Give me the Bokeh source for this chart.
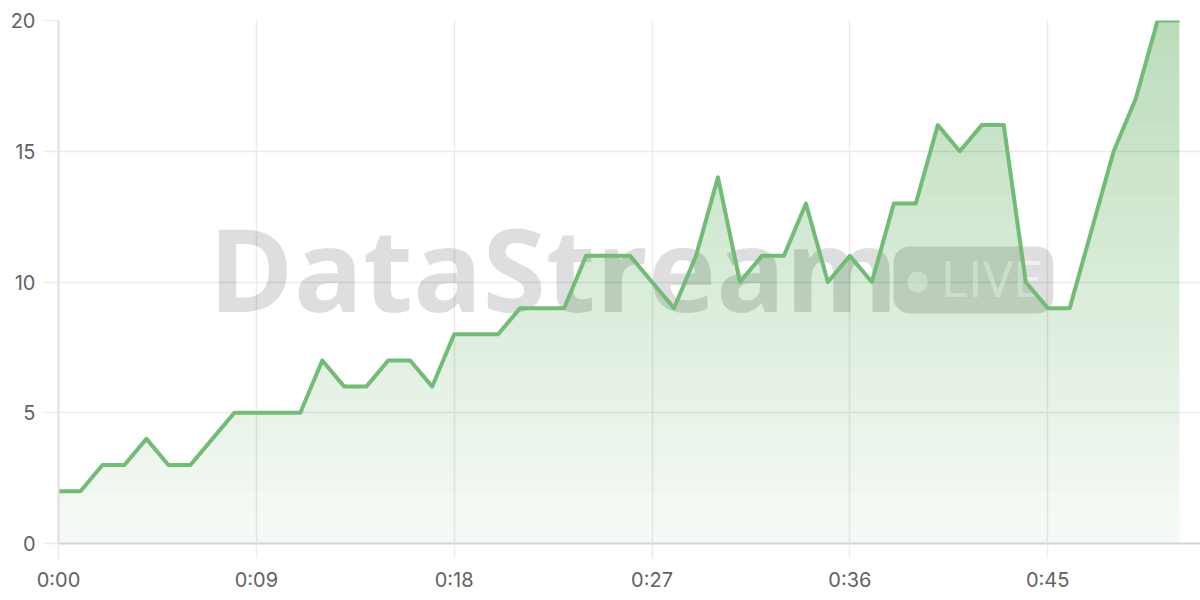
import numpy as np
from bokeh.plotting import figure
from bokeh.models import Label, FixedTicker, Range1d
from bokeh.embed import file_html
from bokeh.resources import INLINE

# ---- data ----
seconds = list(range(52))
values = [2, 2, 3, 3, 4, 3, 3, 4, 5, 5,
          5, 5, 7, 6, 6, 7, 7, 6, 8, 8,
          8, 9, 9, 9, 11, 11, 11, 10, 9, 11,
          14, 10, 11, 11, 13, 10, 11, 10, 13, 13,
          16, 15, 16, 16, 10, 9, 9, 12, 15, 17,
          20, 20]
x_ticks = [0, 9, 18, 27, 36, 45]
x_tick_labels = ["0:00", "0:09", "0:18", "0:27", "0:36", "0:45"]
y_ticks = [0, 5, 10, 15, 20]

LINE = "#74bb78"
FONT = "Inter"

p = figure(width=1200, height=600, output_backend="svg", toolbar_location=None,
           x_range=Range1d(0, 51.95), y_range=Range1d(0, 20),
           min_border_left=58, min_border_right=0, min_border_top=20, min_border_bottom=57)
p.outline_line_color = None
p.background_fill_color = "white"
p.border_fill_color = "white"

# grids
p.xgrid.ticker = FixedTicker(ticks=x_ticks)
p.ygrid.ticker = FixedTicker(ticks=y_ticks)
p.xgrid.grid_line_color = "#ebebeb"
p.ygrid.grid_line_color = "#ebebeb"
p.xgrid.grid_line_width = 1.5
p.ygrid.grid_line_width = 1.5

# axes
p.xaxis.ticker = FixedTicker(ticks=x_ticks)
p.xaxis.major_label_overrides = {t: l for t, l in zip(x_ticks, x_tick_labels)}
p.yaxis.ticker = FixedTicker(ticks=y_ticks)
for ax in (p.xaxis[0], p.yaxis[0]):
    ax.major_tick_in = 0
    ax.major_tick_out = 15
    ax.major_tick_line_color = "#ebebeb"
    ax.major_tick_line_width = 1.5
    ax.minor_tick_line_color = None
    ax.major_label_text_font = FONT
    ax.major_label_text_font_size = "20px"
    ax.major_label_text_color = "#626262"
    ax.axis_line_width = 2
p.xaxis.axis_line_color = "#d2d6d2"
p.yaxis.axis_line_color = "#dedede"
p.xaxis.major_label_standoff = 9
p.yaxis.major_label_standoff = 8

# watermark (drawn under the fill and line); screen units relative to the frame
wm = Label(x=150, y=276, x_units="screen", y_units="screen",
           text="DataStream", text_font="Open Sans", text_font_style="bold",
           text_font_size="115px", text_color="#000000", text_alpha=0.13,
           text_baseline="alphabetic", level="underlay")
p.add_layout(wm)

badge = Label(x=835, y=230, x_units="screen", y_units="screen",
              text="LIVE", text_font="Roboto", text_font_size="50px",
              text_color="#ffffff", text_alpha=0.55,
              text_baseline="bottom",
              background_fill_color="#000000", background_fill_alpha=0.13,
              border_radius=16, padding=dict(left=48, right=11, top=4, bottom=5),
              level="underlay")
p.add_layout(badge)
dot = Label(x=849, y=251, x_units="screen", y_units="screen",
            text=" ", text_font_size="1px",
            background_fill_color="#ffffff", background_fill_alpha=0.55,
            border_radius=10, padding=10,
            text_baseline="bottom", level="underlay")
p.add_layout(dot)

# gradient fill via stacked translucent layers
xs = np.array(seconds, dtype=float)
ys = np.array(values, dtype=float)
N = 30
levels = np.linspace(0, 20, N + 1)
xd, yd = [xs[0]], [ys[0]]
for i in range(len(xs) - 1):
    x0, y0, x1, y1 = xs[i], ys[i], xs[i + 1], ys[i + 1]
    lo, hi = min(y0, y1), max(y0, y1)
    pts = []
    for L in levels:
        if lo < L < hi:
            t = (L - y0) / (y1 - y0)
            pts.append((x0 + t * (x1 - x0), L))
    pts.sort()
    for px, py in pts:
        xd.append(px)
        yd.append(py)
    xd.append(x1)
    yd.append(y1)
xd = np.array(xd)
yd = np.array(yd)

p.varea(x=xd, y1=0, y2=yd, fill_color=LINE, fill_alpha=0.065)
for L in levels[1:-1]:
    p.varea(x=xd, y1=L, y2=np.maximum(yd, L), fill_color=LINE, fill_alpha=0.0100)

p.line(xs, ys, line_color=LINE, line_width=4, line_join="round")

open("out.html", "w").write(file_html(p, INLINE))
